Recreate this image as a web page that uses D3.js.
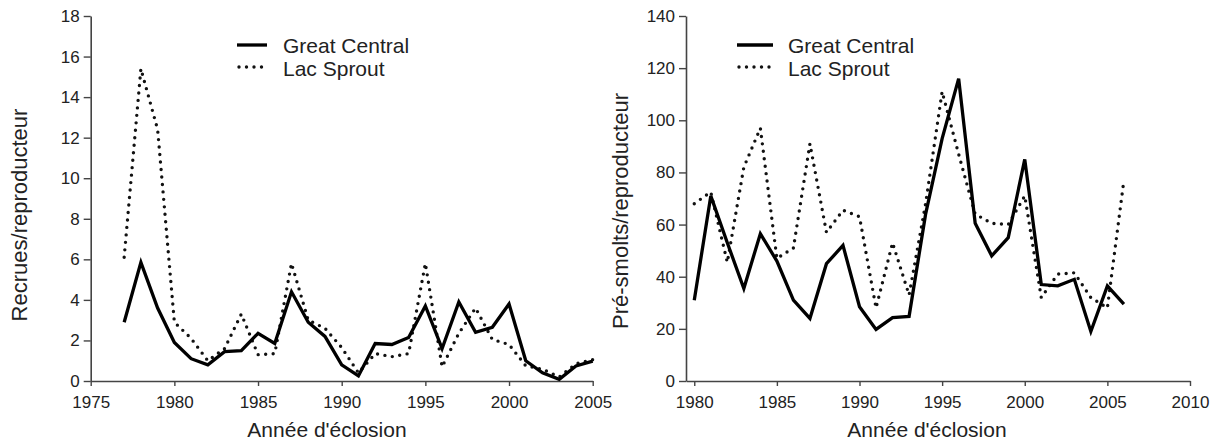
<!DOCTYPE html>
<html>
<head>
<meta charset="utf-8">
<script src="https://cdn.jsdelivr.net/npm/d3@7/dist/d3.min.js"></script>
<style>
  html, body { margin: 0; padding: 0; background: #fff; }
  svg { display: block; }
  text { font-family: Arial, "Liberation Sans", sans-serif; fill: #222; }
</style>
</head>
<body>
<svg id="chart" width="1214" height="442"></svg>
<script>
// ---- Data ----
const yearsLeft = [1977,1978,1979,1980,1981,1982,1983,1984,1985,1986,1987,1988,1989,1990,1991,1992,1993,1994,1995,1996,1997,1998,1999,2000,2001,2002,2003,2004,2005];
const greatCentralRecrues = [2.9,5.85,3.6,1.9,1.1,0.8,1.45,1.5,2.35,1.85,4.4,2.9,2.2,0.8,0.25,1.85,1.8,2.15,3.7,1.6,3.9,2.4,2.65,3.8,1.0,0.4,0.08,0.74,0.98];
const sproutRecrues = [6.1,15.4,12.4,2.9,2.1,1.0,1.6,3.3,1.3,1.35,5.8,3.0,2.6,1.65,0.4,1.35,1.2,1.35,5.8,0.7,2.35,3.6,2.05,1.8,0.75,0.58,0.2,0.85,1.05];

const yearsRight = [1980,1981,1982,1983,1984,1985,1986,1987,1988,1989,1990,1991,1992,1993,1994,1995,1996,1997,1998,1999,2000,2001,2002,2003,2004,2005,2006];
const greatCentralPresmolts = [31,71,53,35.5,56.5,46,31,24,45,52,28.5,19.8,24.3,24.8,64,93,116,60.5,48,55,85,37,36.5,39,19,36.5,29.5];
const sproutPresmolts = [68,72.5,45.5,82,97,47,51,91,57,65.5,63,28,53,33,68,111,87,64,60.5,60,71,32,41,41.5,32,28,77];

const leftYTicks = [0,2,4,6,8,10,12,14,16,18];
const leftXTicks = [1975,1980,1985,1990,1995,2000,2005];
const rightYTicks = [0,20,40,60,80,100,120,140];
const rightXTicks = [1980,1985,1990,1995,2000,2005,2010];

const seriesNames = ["Great Central", "Lac Sprout"];
const xTitle = "Année d'éclosion";
const leftYTitle = "Recrues/reproducteur";
const rightYTitle = "Pré-smolts/reproducteur";

// ---- Drawing ----
const svg = d3.select("#chart");
const axisColor = "#444";

function panel(cfg) {
  const x = d3.scaleLinear().domain(cfg.xDomain).range(cfg.xRange);
  const y = d3.scaleLinear().domain(cfg.yDomain).range([381, 16]);

  const gx = svg.append("g").attr("transform", "translate(0,381)")
    .call(d3.axisBottom(x).tickValues(cfg.xTicks).tickFormat(d3.format("d"))
      .tickSize(5).tickSizeOuter(0).tickPadding(10));
  const gy = svg.append("g").attr("transform", `translate(${cfg.xRange[0]},0)`)
    .call(d3.axisLeft(y).tickValues(cfg.yTicks).tickSize(7).tickSizeOuter(0).tickPadding(4));
  [gx, gy].forEach(g => {
    g.select(".domain").attr("stroke", axisColor).attr("stroke-width", 1.6);
    g.selectAll(".tick line").attr("stroke", axisColor).attr("stroke-width", 1.4);
    g.selectAll(".tick text").attr("font-size", 17).attr("fill", "#222")
      .style("font-family", "Arial, 'Liberation Sans', sans-serif");
  });

  const line = d3.line().x(d => x(d[0])).y(d => y(d[1]));
  const solid = cfg.years.map((yr, i) => [yr, cfg.gc[i]]);
  const dotted = cfg.years.map((yr, i) => [yr, cfg.sp[i]]);

  svg.append("path").datum(dotted).attr("d", line)
    .attr("fill", "none").attr("stroke", "#111").attr("stroke-width", 3.4)
    .attr("stroke-linecap", "round").attr("stroke-dasharray", "0,7.5");
  svg.append("path").datum(solid).attr("d", line)
    .attr("fill", "none").attr("stroke", "#000").attr("stroke-width", 3.3)
    .attr("stroke-linejoin", "miter");

  // legend
  const lg = svg.append("g");
  lg.append("line").attr("x1", cfg.legX).attr("x2", cfg.legX + cfg.legW)
    .attr("y1", 45).attr("y2", 45).attr("stroke", "#000").attr("stroke-width", 3.3);
  lg.append("line").attr("x1", cfg.legX + 2).attr("x2", cfg.legX + cfg.legW)
    .attr("y1", 67).attr("y2", 67).attr("stroke", "#111").attr("stroke-width", 3.4)
    .attr("stroke-linecap", "round").attr("stroke-dasharray", "0,7.5");
  lg.append("text").attr("x", cfg.legTextX).attr("y", 52.5).attr("font-size", 21).text(seriesNames[0]);
  lg.append("text").attr("x", cfg.legTextX).attr("y", 75.5).attr("font-size", 21).text(seriesNames[1]);

  // titles
  svg.append("text").attr("x", cfg.xTitleX).attr("y", 437).attr("text-anchor", "middle")
    .attr("font-size", 21).text(xTitle);
  svg.append("text").attr("transform", `translate(${cfg.yTitleX},${cfg.yTitleY}) rotate(-90)`)
    .attr("text-anchor", "middle").attr("dy", "0.35em").attr("font-size", 22).text(cfg.yTitle);
}

panel({
  xDomain: [1975, 2005], xRange: [90.7, 592.7], yDomain: [0, 18],
  xTicks: leftXTicks, yTicks: leftYTicks,
  years: yearsLeft, gc: greatCentralRecrues, sp: sproutRecrues,
  legX: 237, legW: 30, legTextX: 283,
  xTitleX: 327, yTitleX: 19, yTitleY: 215, yTitle: leftYTitle
});

panel({
  xDomain: [1979.5, 2010], xRange: [686, 1190], yDomain: [0, 140],
  xTicks: rightXTicks, yTicks: rightYTicks,
  years: yearsRight, gc: greatCentralPresmolts, sp: sproutPresmolts,
  legX: 737, legW: 36, legTextX: 788,
  xTitleX: 927, yTitleX: 620, yTitleY: 211, yTitle: rightYTitle
});
</script>
</body>
</html>
